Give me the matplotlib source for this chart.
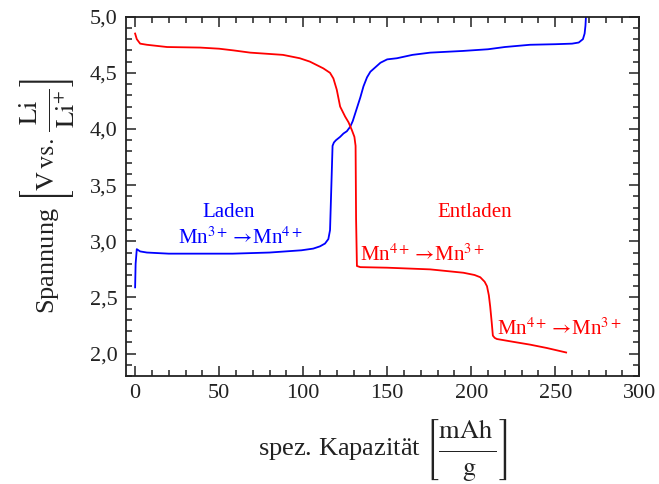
import numpy as np
import matplotlib
matplotlib.use('Agg')
import matplotlib.pyplot as plt
from matplotlib.ticker import MultipleLocator, FuncFormatter

# Lade-/Entladekurve einer Spinell-Kathode (Spannung gegen spez. Kapazität)

# Laden
kap_laden = [0, 0.3, 1, 3, 7, 20, 40, 58, 80, 99, 106, 110, 113, 115, 116,
             116.8, 117.5, 118.3, 119.5, 122, 124, 126, 128, 129.5, 131,
             132.5, 134, 135.9, 138, 140, 143, 146, 150, 155.8, 165, 175.6,
             195, 210, 220, 235, 250, 260, 264, 266.5, 267.5, 268, 268.3]
spg_laden = [2.59, 2.80, 2.93, 2.91, 2.90, 2.89, 2.89, 2.89, 2.90, 2.92,
             2.935, 2.955, 2.98, 3.02, 3.10, 3.50, 3.85, 3.88, 3.90, 3.93,
             3.96, 3.98, 4.02, 4.07, 4.14, 4.21, 4.28, 4.38, 4.46, 4.51,
             4.55, 4.59, 4.62, 4.63, 4.66, 4.68, 4.695, 4.71, 4.73, 4.75,
             4.755, 4.76, 4.77, 4.80, 4.85, 4.92, 5.0]

# Entladen
kap_entladen = [0, 1, 3, 7, 19, 38.7, 50, 58.5, 68.5, 88, 98, 104, 108, 112,
                116, 118, 120, 122, 125, 127, 129, 130.5, 131.2, 131.5, 132,
                134, 150, 175.6, 195.4, 202, 205.4, 208, 209.4, 210.5, 211.3,
                212.2, 212.9, 214, 215.3, 225, 235, 245, 256.5]
spg_entladen = [4.85, 4.80, 4.76, 4.75, 4.73, 4.725, 4.715, 4.70, 4.68, 4.66,
                4.63, 4.60, 4.57, 4.54, 4.50, 4.45, 4.35, 4.20, 4.11, 4.06,
                3.99, 3.93, 3.85, 3.20, 2.78, 2.77, 2.765, 2.75, 2.72, 2.70,
                2.68, 2.64, 2.60, 2.52, 2.42, 2.28, 2.16, 2.14, 2.13, 2.105,
                2.08, 2.05, 2.01]

plt.rcParams['font.family'] = ['Liberation Serif', 'DejaVu Serif']
plt.rcParams['mathtext.fontset'] = 'stix'
textfarbe = '#222222'

fig = plt.figure(figsize=(6.59, 4.84), dpi=100)
ax = fig.add_axes([0.191, 0.223, 0.779, 0.7425])

ax.plot(kap_laden, spg_laden, color='#0000ff', lw=1.3)
ax.plot(kap_entladen, spg_entladen, color='#ff0000', lw=1.3)

ax.text(55.4, 3.26, 'Laden', color='#0000ff', fontsize=15, ha='center', va='center')
ax.text(62.5, 3.03, r'Mn$^{3+}\rightarrow\!$Mn$^{4+}$', color='#0000ff',
        fontsize=15, ha='center', va='center')
ax.text(202, 3.26, 'Entladen', color='#ff0000', fontsize=15, ha='center', va='center')
ax.text(134, 2.88, r'Mn$^{4+}\rightarrow\!$Mn$^{3+}$', color='#ff0000',
        fontsize=15, ha='left', va='center')
ax.text(215.5, 2.22, r'Mn$^{4+}\rightarrow\!$Mn$^{3+}$', color='#ff0000',
        fontsize=15, ha='left', va='center')

ax.set_xlim(-5.5, 300)
ax.set_ylim(1.8, 5.0)
ax.xaxis.set_major_locator(MultipleLocator(50))
ax.xaxis.set_minor_locator(MultipleLocator(10))
ax.yaxis.set_major_locator(MultipleLocator(0.5))
ax.yaxis.set_minor_locator(MultipleLocator(0.1))
# Dezimalkomma
ax.yaxis.set_major_formatter(FuncFormatter(lambda v, _: f'{v:.1f}'.replace('.', ',')))
ax.xaxis.set_major_formatter(FuncFormatter(lambda v, _: f'{v:.0f}'))

ax.tick_params(which='both', direction='in', top=True, right=True,
               labelsize=16, colors=textfarbe, width=1.1)
ax.tick_params(which='major', length=7, pad=6)
ax.tick_params(which='minor', length=4)
for s in ax.spines.values():
    s.set_linewidth(1.3)
    s.set_color(textfarbe)

# leere Hoch-/Tiefstellungen sorgen für mehr Luft um den Bruchstrich
zaehler_luft = r'_{\hspace{0}_{\hspace{0}_{\hspace{0}}}}'
nenner_luft = r'{}^{\hspace{0}^{\hspace{0}^{\hspace{0}}}}'
ax.set_xlabel(r'spez. Kapazität $\left[\dfrac{\mathrm{mAh}' + zaehler_luft + '}{'
              + nenner_luft + r'\mathrm{g}}\right]$',
              fontsize=19, color=textfarbe, labelpad=10.5)
ax.set_ylabel(r'Spannung $\left[\mathrm{V\,vs.}\,\dfrac{\mathrm{Li}' + zaehler_luft + '}{'
              + nenner_luft + r'\mathrm{Li}^{+}}\right]$',
              fontsize=19, color=textfarbe, labelpad=9)

fig.savefig('out.png', dpi=100)
